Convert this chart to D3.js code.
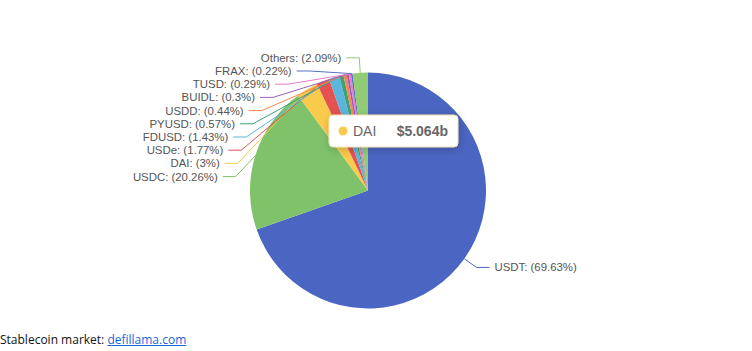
<!DOCTYPE html>
<html>
<head>
<meta charset="utf-8">
<script src="https://cdn.jsdelivr.net/npm/d3@7"></script>
<style>
  body { margin: 0; background: #fff; }
  #chart { position: relative; width: 752px; height: 351px; }
  .foot { position: absolute; left: 0; top: 331px; font-family: "Open Sans", sans-serif; font-size: 12px; color: #111; }
  .foot a { color: #1a66d9; text-decoration: underline; }
</style>
</head>
<body>
<div id="chart">
  <div class="foot">Stablecoin market: <a href="#">defillama.com</a></div>
</div>
<script>
// stablecoin market share (%), clockwise from 12 o'clock
const coins = ["USDT", "USDC", "DAI", "USDe", "FDUSD", "PYUSD", "USDD", "BUIDL", "TUSD", "FRAX", "Others"];
const shares = [69.63, 20.26, 3, 1.77, 1.43, 0.57, 0.44, 0.3, 0.29, 0.22, 2.09];
const colors = ["#4b66c2", "#7fc26a", "#f9cb4d", "#e45252", "#5ab6dc", "#3ba272", "#fc8452", "#9a60b4", "#ea7ccc", "#5470c6", "#91cc75"];

// tooltip shown in the shot
const tipName = "DAI";
const tipValue = "$5.064b";

const width = 752, height = 351;
const cx = 368, cy = 190.5, r = 118;
const len = 15, len2 = 13, gap = 5, lineH = 13.2;

const svg = d3.select("#chart")
  .append("svg")
  .attr("width", width)
  .attr("height", height)
  .style("position", "absolute")
  .style("left", 0)
  .style("top", 0);

const data = coins.map((c, i) => ({ name: c, value: shares[i], color: colors[i] }));

const pie = d3.pie().sort(null).value((d) => d.value);
const arcs = pie(data);
const arc = d3.arc().innerRadius(0).outerRadius(r);

const g = svg.append("g").attr("transform", `translate(${cx},${cy})`);

g.selectAll("path")
  .data(arcs)
  .enter()
  .append("path")
  .attr("d", arc)
  .attr("fill", (d) => d.data.color);

// label layout, roughly the way echarts pushes crowded labels apart
const labels = arcs.map((a) => {
  const mid = (a.startAngle + a.endAngle) / 2;
  const dx = Math.sin(mid), dy = -Math.cos(mid);
  return {
    d: a.data,
    dir: dx < 0 ? -1 : 1,
    x1: cx + r * dx, y1: cy + r * dy,
    x2: cx + (r + len) * dx, y: cy + (r + len) * dy
  };
});

[-1, 1].forEach((dir) => {
  const side = labels.filter((l) => l.dir === dir).sort((a, b) => a.y - b.y);
  for (let i = 1; i < side.length; i++) {
    if (side[i].y < side[i - 1].y + lineH) side[i].y = side[i - 1].y + lineH;
  }
  if (side.length < 2) return;
  const R = r + len;
  const top = side[0];
  const tdy = Math.abs(top.y - cy), tdx = Math.abs(top.x2 - cx);
  const rB = tdx < R ? Math.sqrt((tdy * tdy) / (1 - (tdx * tdx) / (R * R))) : R;
  side.forEach((l) => {
    const ddy = Math.abs(l.y - cy);
    const ddx = Math.sqrt(Math.max(0, 1 - (ddy * ddy) / (rB * rB)) * R * R);
    l.x2 = cx + dir * ddx;
  });
});

const lg = svg.append("g");

lg.selectAll("polyline")
  .data(labels)
  .enter()
  .append("polyline")
  .attr("points", (l) => `${l.x1},${l.y1} ${l.x2},${l.y} ${l.x2 + l.dir * len2},${l.y}`)
  .attr("fill", "none")
  .attr("stroke", (l) => l.d.color)
  .attr("stroke-width", 1);

lg.selectAll("text")
  .data(labels)
  .enter()
  .append("text")
  .attr("x", (l) => l.x2 + l.dir * (len2 + gap))
  .attr("y", (l) => l.y)
  .attr("dy", "0.35em")
  .attr("text-anchor", (l) => (l.dir < 0 ? "end" : "start"))
  .style("font-family", "'Liberation Sans', Arial, sans-serif")
  .style("font-size", "11.4px")
  .attr("fill", "#555")
  .text((l) => `${l.d.name}: (${l.d.value}%)`);

// tooltip
const defs = svg.append("defs");
const f = defs.append("filter").attr("id", "shadow").attr("x", "-20%").attr("y", "-40%").attr("width", "140%").attr("height", "180%");
f.append("feDropShadow").attr("dx", 1).attr("dy", 2).attr("stdDeviation", 4).attr("flood-color", "rgba(0,0,0,0.2)");

const tipColor = colors[coins.indexOf(tipName)];
const tip = svg.append("g").attr("transform", "translate(329,115)");
tip.append("rect")
  .attr("width", 129)
  .attr("height", 32)
  .attr("rx", 4)
  .attr("fill", "#fff")
  .attr("stroke", "#f3dfae")
  .attr("stroke-width", 1)
  .attr("filter", "url(#shadow)");
tip.append("circle").attr("cx", 14).attr("cy", 16).attr("r", 4.5).attr("fill", tipColor);
tip.append("text")
  .attr("x", 24).attr("y", 16).attr("dy", "0.35em")
  .style("font-family", "'Liberation Sans', Arial, sans-serif")
  .style("font-size", "14px")
  .attr("fill", "#666")
  .text(tipName);
tip.append("text")
  .attr("x", 119).attr("y", 16).attr("dy", "0.35em")
  .attr("text-anchor", "end")
  .style("font-family", "'Liberation Sans', Arial, sans-serif")
  .style("font-size", "14px")
  .style("font-weight", "bold")
  .attr("fill", "#666")
  .text(tipValue);
</script>
</body>
</html>
